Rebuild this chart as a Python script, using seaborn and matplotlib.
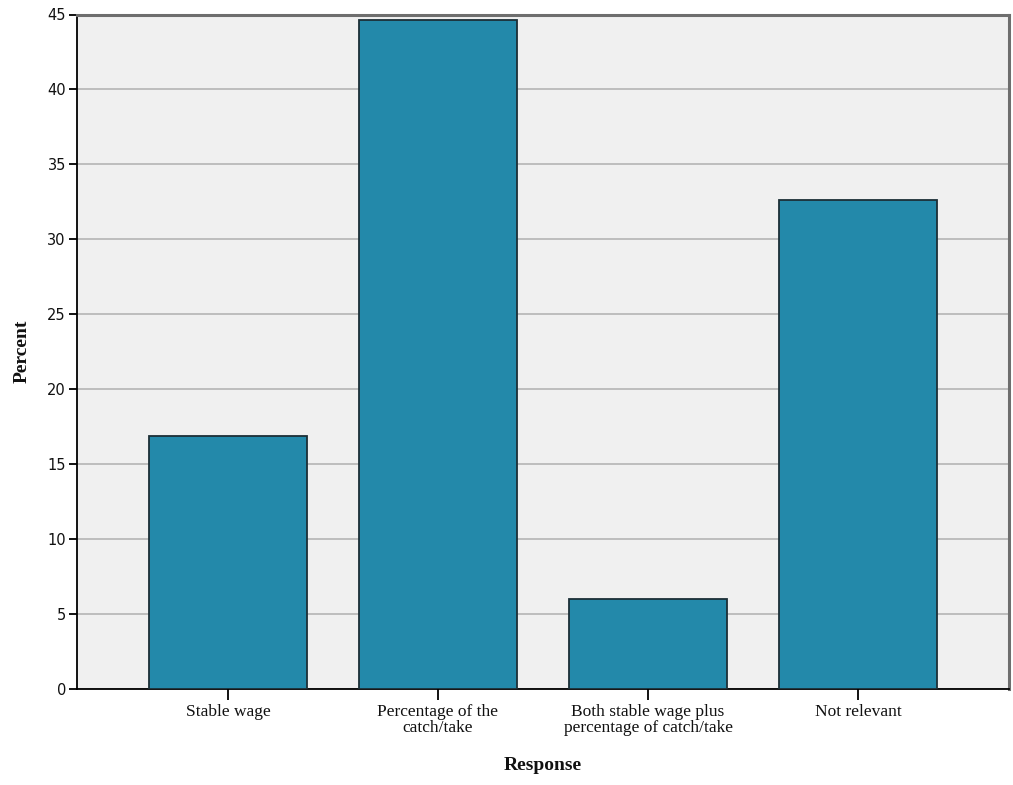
import matplotlib
matplotlib.use("Agg")
import pandas as pd
import matplotlib.pyplot as plt
import seaborn as sns

# values (percent of respondents)
responses = [
    "Stable wage",
    "Percentage of the\ncatch/take",
    "Both stable wage plus\npercentage of catch/take",
    "Not relevant",
]
percents = [16.9, 44.6, 6.0, 32.6]
y_ticks = [0, 5, 10, 15, 20, 25, 30, 35, 40, 45]

df = pd.DataFrame({"Response": responses, "Percent": percents})

sns.set_style("white")
plt.rcParams["font.family"] = ["Liberation Serif", "DejaVu Serif"]
plt.rcParams["text.color"] = "#111111"
plt.rcParams["axes.labelcolor"] = "#111111"

fig = plt.figure(figsize=(10.13, 7.85), dpi=100)
ax = fig.add_axes([77 / 1013, 96 / 785, 932 / 1013, 674.5 / 785])
ax.set_facecolor("#f0f0f0")

sns.barplot(data=df, x="Response", y="Percent", color="#2389aa",
            width=0.755, edgecolor="#1c2f36", linewidth=1.3, saturation=1, ax=ax, zorder=3)

ax.set_ylim(0, 45)
ax.set_xlim(-0.719, 3.719)
ax.set_yticks(y_ticks)
ax.set_xticks(range(len(responses)))
ax.set_xticklabels(responses, fontsize=12.5, linespacing=1.0)
ax.yaxis.grid(True, color="#b9b9b9", linewidth=1.3, zorder=0)
ax.set_axisbelow(True)

for side in ["top", "right"]:
    ax.spines[side].set_color("#6e6e6e")
    ax.spines[side].set_linewidth(2.2)
for side in ["left", "bottom"]:
    ax.spines[side].set_color("black")
    ax.spines[side].set_linewidth(1.3)

ax.tick_params(axis="y", left=True, direction="out", length=6, width=1.3, color="black",
               pad=2, labelcolor="#111111")
ax.tick_params(axis="x", bottom=True, direction="out", length=8, width=1.3, color="black",
               pad=3, labelcolor="#111111")
for lab in ax.get_yticklabels():
    lab.set_family(["DejaVu Sans"])
    lab.set_fontsize(10.5)

ax.set_xlabel("Response", fontsize=14, fontweight="bold", labelpad=15)
ax.set_ylabel("Percent", fontsize=14, fontweight="bold", labelpad=12)

fig.savefig("out.png", dpi=100)
